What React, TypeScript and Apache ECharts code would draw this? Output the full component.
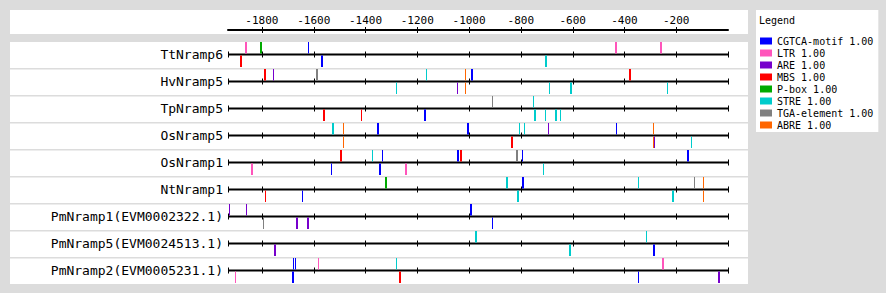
import React, { useEffect, useRef } from "react";
import * as echarts from "echarts";

const MONO = "'DejaVu Sans Mono', monospace";

const genes = [
  "TtNramp6",
  "HvNramp5",
  "TpNramp5",
  "OsNramp5",
  "OsNramp1",
  "NtNramp1",
  "PmNramp1(EVM0002322.1)",
  "PmNramp5(EVM0024513.1)",
  "PmNramp2(EVM0005231.1)",
];

const seqStart = -1931;
const seqEnd = 0;
const axisTicks = [-1800, -1600, -1400, -1200, -1000, -800, -600, -400, -200];

const motifNames = ["CGTCA-motif", "LTR", "ARE", "MBS", "P-box", "STRE", "TGA-element", "ABRE"];
const motifScores = ["1.00", "1.00", "1.00", "1.00", "1.00", "1.00", "1.00", "1.00"];
const motifColors = ["#0000ff", "#ff55bb", "#7700cc", "#ff0000", "#00aa00", "#00cccc", "#808080", "#ff6600"];

// each site: [start position, gene row, strand (1 = above, -1 = below), length bp]
const cgtcaMotif = [
  [-1622, 0, 1, 4], [-1572, 0, -1, 7],
  [-993, 1, 1, 7],
  [-1174, 2, -1, 7],
  [-1356, 3, 1, 7], [-1008, 3, 1, 7], [-433, 3, 1, 4],
  [-1533, 4, -1, 4], [-1336, 4, 1, 4], [-1348, 4, -1, 7], [-1047, 4, 1, 7], [-796, 4, 1, 4], [-158, 4, 1, 7],
  [-1645, 5, -1, 4], [-796, 5, 1, 7],
  [-997, 6, 1, 7], [-912, 6, -1, 4],
  [-290, 7, -1, 7],
  [-1680, 8, 1, 4], [-1673, 8, 1, 4], [-1684, 8, -1, 7], [-348, 8, -1, 4],
];
const ltr = [
  [-1866, 0, 1, 7], [-436, 0, 1, 7], [-263, 0, 1, 7],
  [-1842, 4, -1, 7], [-1248, 4, -1, 7],
  [-1904, 8, -1, 4], [-1584, 8, 1, 4], [-255, 8, 1, 7],
];
const are = [
  [-1757, 1, 1, 4], [-1047, 1, -1, 4],
  [-695, 3, 1, 4], [-286, 3, -1, 4],
  [-1927, 6, 1, 4], [-1862, 6, 1, 4], [-1669, 6, -1, 7], [-1626, 6, -1, 7],
  [-1754, 7, -1, 7],
  [-39, 8, -1, 7],
];
const mbs = [
  [-1885, 0, -1, 7],
  [-1792, 1, 1, 7], [-382, 1, 1, 7],
  [-1564, 2, -1, 7], [-1417, 2, -1, 4],
  [-838, 3, -1, 7],
  [-1499, 4, 1, 7], [-1035, 4, 1, 7],
  [-1788, 5, -1, 4],
  [-1271, 8, -1, 7],
];
const pBox = [
  [-1808, 0, 1, 7],
  [-1325, 5, 1, 7],
];
const stre = [
  [-707, 0, -1, 7],
  [-1282, 1, -1, 4], [-1166, 1, 1, 4], [-691, 1, -1, 4], [-610, 1, -1, 7], [-236, 1, -1, 4],
  [-753, 2, 1, 4], [-749, 2, -1, 7], [-707, 2, -1, 4], [-668, 2, -1, 7], [-649, 2, -1, 4],
  [-1530, 3, 1, 7], [-807, 3, 1, 4], [-788, 3, 1, 4], [-143, 3, -1, 4],
  [-1375, 4, 1, 4], [-715, 4, -1, 4],
  [-857, 5, 1, 7], [-348, 5, 1, 4], [-815, 5, -1, 7], [-216, 5, -1, 7],
  [-977, 7, 1, 7], [-614, 7, -1, 7], [-317, 7, 1, 4],
  [-1282, 8, 1, 4],
];
const tgaElement = [
  [-1591, 1, 1, 7],
  [-912, 2, 1, 4],
  [-819, 4, 1, 7],
  [-131, 5, 1, 4],
  [-1796, 6, -1, 4],
];
const abre = [
  [-1016, 1, 1, 4], [-1016, 1, -1, 4],
  [-1487, 3, 1, 4], [-1487, 3, -1, 4],
  [-290, 3, 1, 4], [-290, 3, -1, 4],
  [-97, 5, 1, 4], [-97, 5, -1, 4],
];

const motifSites = [cgtcaMotif, ltr, are, mbs, pBox, stre, tgaElement, abre];

export default function App() {
  const ref = useRef<HTMLDivElement>(null);

  useEffect(() => {
    if (!ref.current) return;
    const chart = echarts.init(ref.current, null, { renderer: "svg" });

    const motifSeries = motifNames.map((name, k) => ({
      type: "custom",
      name,
      xAxisIndex: 0,
      yAxisIndex: 0,
      clip: false,
      silent: true,
      itemStyle: { color: motifColors[k] },
      encode: { x: 0, y: 1 },
      data: motifSites[k],
      renderItem: (_p: any, api: any) => {
        const pos = api.value(0);
        const row = api.value(1);
        const strand = api.value(2);
        const len = api.value(3);
        const a = api.coord([pos, row]);
        const b = api.coord([pos + len, row]);
        const x0 = Math.round(a[0]);
        const w = Math.max(1, Math.round(b[0]) - x0);
        const y = strand > 0 ? a[1] - 12.5 : a[1] + 1;
        return {
          type: "rect",
          shape: { x: x0, y, width: w, height: 11.5 },
          style: { fill: api.visual("color") },
        };
      },
    }));

    const rowSeries = {
      type: "custom",
      name: "rows",
      xAxisIndex: 0,
      yAxisIndex: 0,
      clip: false,
      silent: true,
      z: 1,
      encode: { x: 0, y: 1 },
      data: genes.map((_g, i) => [seqStart, i]),
      renderItem: (_p: any, api: any) => {
        const row = api.value(1);
        const s = api.coord([seqStart, row]);
        const e = api.coord([seqEnd, row]);
        const children: any[] = [
          {
            type: "line",
            shape: { x1: s[0], y1: s[1], x2: e[0], y2: e[1] },
            style: { stroke: "#000", lineWidth: 2 },
          },
        ];
        [seqStart, ...axisTicks, seqEnd].forEach((v) => {
          const p = api.coord([v, row]);
          const x = Math.round(p[0]) + 0.5;
          children.push({
            type: "line",
            shape: { x1: x, y1: p[1] - 3, x2: x, y2: p[1] + 3 },
            style: { stroke: "#000", lineWidth: 1 },
          });
        });
        return { type: "group", children };
      },
    };

    const topTickSeries = {
      type: "custom",
      name: "axisTicks",
      xAxisIndex: 1,
      yAxisIndex: 1,
      clip: false,
      silent: true,
      encode: { x: 0, y: 1 },
      data: axisTicks.map((v) => [v, 0]),
      renderItem: (_p: any, api: any) => {
        const p = api.coord([api.value(0), 0]);
        const x = Math.round(p[0]) + 0.5;
        return {
          type: "line",
          shape: { x1: x, y1: p[1] - 3, x2: x, y2: p[1] + 3 },
          style: { stroke: "#000", lineWidth: 1 },
        };
      },
    };

    const separators = genes.slice(1).map((_g, i) => ({
      type: "rect",
      z: -5,
      shape: { x: 10, y: 68 + 27 * i, width: 738, height: 1.5 },
      style: { fill: "#dcdcdc" },
    }));

    chart.setOption({
      animation: false,
      backgroundColor: "#dcdcdc",
      title: {
        text: "Legend",
        left: 759,
        top: 15,
        padding: 0,
        z: 10,
        textStyle: { fontFamily: MONO, fontSize: 10, fontWeight: "normal", color: "#000" },
      },
      legend: {
        orient: "vertical",
        left: 756,
        top: 10,
        padding: [25, 5, 1, 4],
        backgroundColor: "#fff",
        itemWidth: 12,
        itemHeight: 7,
        itemGap: 0,
        icon: "rect",
        selectedMode: false,
        data: motifNames,
        formatter: (n: string) => `${n} ${motifScores[motifNames.indexOf(n)]}`,
        textStyle: { fontFamily: MONO, fontSize: 10, color: "#000", lineHeight: 12 },
      },
      graphic: [
        { type: "rect", z: -10, shape: { x: 10, y: 10, width: 738, height: 24 }, style: { fill: "#fff" } },
        { type: "rect", z: -10, shape: { x: 10, y: 42, width: 738, height: 242 }, style: { fill: "#fff" } },
        ...separators,
      ],
      grid: [
        { left: 228, width: 500, top: 41, height: 243 },
        { left: 228, width: 500, top: 30, height: 1 },
      ],
      xAxis: [
        { type: "value", gridIndex: 0, min: seqStart, max: seqEnd, show: false },
        {
          type: "value",
          gridIndex: 1,
          min: seqStart,
          max: seqEnd,
          position: "top",
          axisLine: { show: true, lineStyle: { color: "#000", width: 2 } },
          axisTick: { show: false },
          splitLine: { show: false },
          axisLabel: {
            customValues: axisTicks,
            formatter: (v: number) => String(v),
            fontFamily: MONO,
            fontSize: 11,
            color: "#000",
            margin: 4,
          },
        },
      ],
      yAxis: [
        {
          type: "category",
          gridIndex: 0,
          data: genes,
          inverse: true,
          axisLine: { show: false },
          axisTick: { show: false },
          splitLine: { show: false },
          axisLabel: { fontFamily: MONO, fontSize: 13, color: "#000", margin: 5 },
        },
        { type: "value", gridIndex: 1, min: 0, max: 1, inverse: true, show: false },
      ],
      series: [rowSeries, topTickSeries, ...motifSeries],
    });

    return () => chart.dispose();
  }, []);

  return (
    <div
      ref={ref}
      style={{ position: "fixed", left: 0, top: 0, width: 886, height: 293 }}
    />
  );
}
